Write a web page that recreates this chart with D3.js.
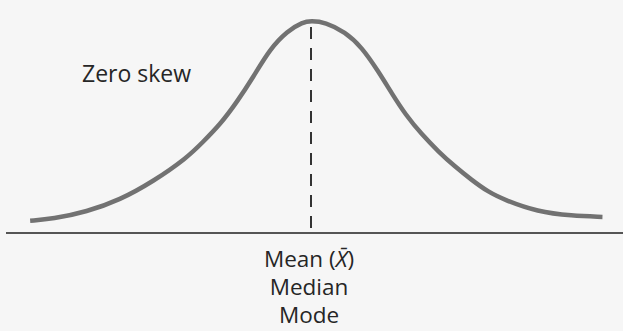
<!DOCTYPE html>
<html>
<head>
<meta charset="utf-8">
<script src="https://cdn.jsdelivr.net/npm/d3@7"></script>
<style>
  html, body { margin: 0; padding: 0; background: #f6f6f6; }
  svg { display: block; }
  text { font-family: "Open Sans", "Noto Sans", sans-serif; fill: #262626; }
</style>
</head>
<body>
<svg id="chart" width="623" height="331"></svg>
<script>
// Position along the axis, in standard deviations from the mean
const zValues = [-2.38, -2.19, -1.90, -1.62, -1.34, -1.05, -0.92, -0.77, -0.63, -0.49, -0.35, -0.20, -0.07, 0.00,
                 0.12, 0.29, 0.43, 0.57, 0.69, 0.80, 0.94, 1.08, 1.22, 1.36, 1.50, 1.64, 1.92, 2.21, 2.47];
// Relative height of the curve (peak = 1)
const heights = [0.058, 0.066, 0.10, 0.156, 0.242, 0.355, 0.427, 0.512, 0.616, 0.735, 0.867, 0.953, 0.995, 1.0,
                 0.995, 0.948, 0.877, 0.763, 0.654, 0.559, 0.464, 0.384, 0.313, 0.251, 0.194, 0.156, 0.10, 0.081, 0.076];
const meanValue = 0;
const curveLabel = "Zero skew";
const centerLabels = ["Mean (", "Median", "Mode"];

const svg = d3.select("#chart");
const W = 623, H = 331;

const x = d3.scaleLinear().domain([-3, 3]).range([311 - 3 * 118, 311 + 3 * 118]);
const y = d3.scaleLinear().domain([0, 1]).range([233, 21]);

// baseline axis
const axis = d3.axisBottom(x).tickValues([]).tickSizeOuter(0);
const axisG = svg.append("g").attr("transform", `translate(0,${y(0)})`).call(axis);
axisG.select(".domain")
  .attr("d", `M6,0H${W}`)
  .attr("stroke", "#555").attr("stroke-width", 2);

// dashed mean line
svg.append("line")
  .attr("x1", x(meanValue)).attr("x2", x(meanValue))
  .attr("y1", y(1) + 6).attr("y2", y(0))
  .attr("stroke", "#333").attr("stroke-width", 2)
  .attr("stroke-dasharray", "12,9");

// curve
const pts = zValues.map((z, i) => [z, heights[i]]);
const line = d3.line()
  .x(d => x(d[0]))
  .y(d => y(d[1]))
  .curve(d3.curveBasis);
svg.append("path")
  .datum(pts)
  .attr("d", line)
  .attr("fill", "none")
  .attr("stroke", "#727272")
  .attr("stroke-width", 4.5)
  .attr("stroke-linecap", "butt");

// labels
svg.append("text")
  .attr("x", 82).attr("y", 82)
  .attr("font-size", 23)
  .text(curveLabel);

const cx = x(meanValue) - 2;
const t1 = svg.append("text").attr("x", cx).attr("y", 267).attr("font-size", 22.5).attr("text-anchor", "middle");
t1.append("tspan").text(centerLabels[0]);
t1.append("tspan").attr("font-style", "italic").text("X\u0304");
t1.append("tspan").text(")");
svg.append("text").attr("x", cx).attr("y", 295).attr("font-size", 22.5).attr("text-anchor", "middle").text(centerLabels[1]);
svg.append("text").attr("x", cx).attr("y", 323).attr("font-size", 22.5).attr("text-anchor", "middle").text(centerLabels[2]);
</script>
</body>
</html>
